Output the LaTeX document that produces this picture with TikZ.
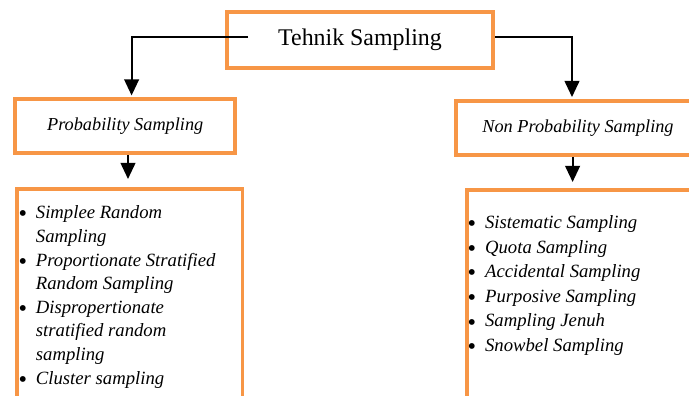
\documentclass[tikz,border=0pt]{standalone}
\usepackage{fontspec}
\setmainfont{Liberation Serif}
\usepackage{tikz}
\usetikzlibrary{arrows.meta,positioning}

\definecolor{boxorange}{HTML}{F79646}
\newcommand{\lbul}{\raisebox{-2.2pt}{\scalebox{1.3}{\textbullet}}}

\tikzset{
  obox/.style={draw=boxorange, line width=2.8pt, inner sep=0pt},
  arr/.style={line width=1.4pt, -{Triangle[length=11.5pt,width=10.5pt]}},
  listtxt/.style={inner sep=0pt, anchor=north west, font=\fontsize{13.3}{16.8}\selectfont\itshape}
}

\begin{document}
\begin{tikzpicture}
  \useasboundingbox (0,0) rectangle (17.225,9.9);

  % Top box
  \node[obox, minimum width=6.64cm, minimum height=1.4cm, font=\fontsize{17}{20}\selectfont]
    (tsbox) at (9.0,8.9) {Tehnik Sampling};

  % Second level
  \node[obox, minimum width=5.5cm, minimum height=1.35cm, font=\fontsize{13}{15}\selectfont\itshape]
    (pbox) at (3.13,6.75) {Probability Sampling};
  \node[obox, minimum width=6.1cm, minimum height=1.35cm, font=\fontsize{13}{15}\selectfont\itshape]
    (npbox) at (14.45,6.7) {Non Probability Sampling};

  % List boxes
  \node[obox, anchor=north west, minimum width=5.6375cm, minimum height=5.825cm] (lbox) at (0.375,5.225) {};
  \node[obox, anchor=north west, minimum width=10cm, minimum height=5.825cm] (rbox) at (11.625,5.2) {};

  % Left list
  \node[listtxt] (plist) at (0.45,4.85) {%
    \begin{tabular}{@{}l@{\hspace{6.5pt}}l@{}}
      \lbul & Simplee Random \\
            & Sampling \\
      \lbul & Proportionate Stratified \\
            & Random Sampling \\
      \lbul & Dispropertionate \\
            & stratified random \\
            & sampling \\
      \lbul & Cluster sampling
    \end{tabular}};

  % Right list
  \node[listtxt, font=\fontsize{13.3}{17.5}\selectfont\itshape] (nplist) at (11.68,4.625) {%
    \begin{tabular}{@{}l@{\hspace{6.5pt}}l@{}}
      \lbul & Sistematic Sampling \\
      \lbul & Quota Sampling \\
      \lbul & Accidental Sampling \\
      \lbul & Purposive Sampling \\
      \lbul & Sampling Jenuh \\
      \lbul & Snowbel Sampling
    \end{tabular}};

  % Arrows
  \coordinate (ptip) at (3.2,5.425);
  \coordinate (ntip) at (14.315,5.35);
  \draw[arr] ([xshift=0.575cm,yshift=0.08cm]tsbox.west) -| ([xshift=0.16cm,yshift=0.04cm]pbox.north);
  \draw[arr] ([yshift=0.08cm]tsbox.east) -| ([xshift=-0.15cm,yshift=0.05cm]npbox.north);
  \draw[arr] (pbox.south -| ptip) -- (ptip);
  \draw[arr] (npbox.south -| ntip) -- (ntip);
\end{tikzpicture}
\end{document}
